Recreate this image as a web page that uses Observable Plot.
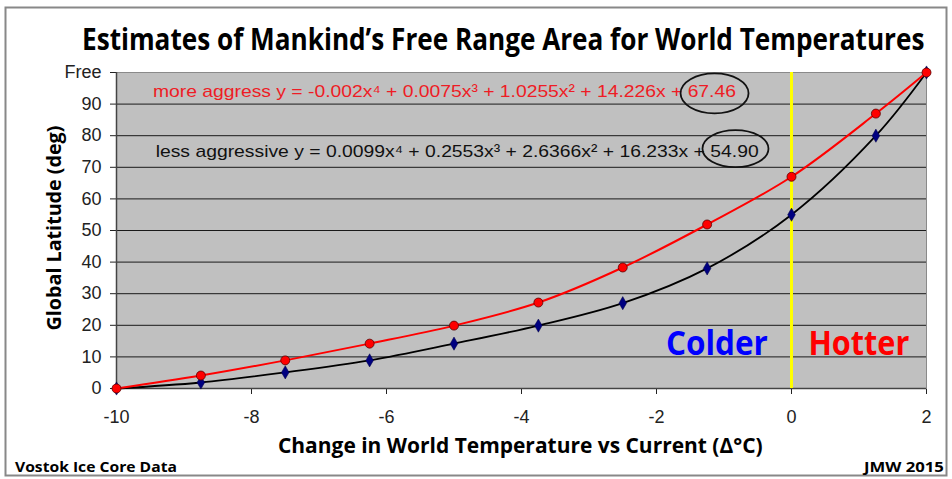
<!DOCTYPE html>
<html><head><meta charset="utf-8">
<script src="https://cdn.jsdelivr.net/npm/d3@7"></script>
<script src="https://cdn.jsdelivr.net/npm/@observablehq/plot@0.6"></script>
<style>body{margin:0;background:#fff;overflow:hidden}#chart{position:absolute;left:0;top:0}</style>
</head><body><div id="chart"></div>
<script>
// ---- data ----
const temps = [-10, -8.75, -7.5, -6.25, -5, -3.75, -2.5, -1.25, 0, 1.25, 2];
const moreAggressive = [0, 4.1, 8.9, 14.2, 19.9, 27.2, 38.3, 51.9, 67, 87, 100];
const lessAggressive = [0, 1.9, 5.1, 8.9, 14.2, 19.9, 27, 38, 55, 80, 100];
const xTicks = [-10, -8, -6, -4, -2, 0, 2];
const yTicks = [0, 10, 20, 30, 40, 50, 60, 70, 80, 90, 100];
const yTickLabels = ["0", "10", "20", "30", "40", "50", "60", "70", "80", "90", "Free"];
const gridLines = [10, 20, 30, 40, 50, 60, 70, 80, 90];
const eqMore = "more aggress y = -0.002x\u2074 + 0.0075x\u00B3 + 1.0255x\u00B2 + 14.226x + 67.46";
const eqLess = "less aggressive y = 0.0099x\u2074 + 0.2553x\u00B3 + 2.6366x\u00B2 + 16.233x + 54.90";
const titleText = "Estimates of Mankind\u2019s Free Range Area for World Temperatures";
const xLabel = "Change in World Temperature vs Current (\u0394\u00B0C)";
const yLabel = "Global Latitude (deg)";
const footLeft = "Vostok Ice Core Data";
const footRight = "JMW 2015";

const red = temps.map((t, i) => ({t, v: moreAggressive[i]}));
const blue = temps.map((t, i) => ({t, v: lessAggressive[i]}));

// ellipse symbol (drawn with bezier curves)
function ellipseSymbol(rx, ry) {
  const k = 0.5523;
  return {draw(ctx) {
    ctx.moveTo(rx, 0);
    ctx.bezierCurveTo(rx, k * ry, k * rx, ry, 0, ry);
    ctx.bezierCurveTo(-k * rx, ry, -rx, k * ry, -rx, 0);
    ctx.bezierCurveTo(-rx, -k * ry, -k * rx, -ry, 0, -ry);
    ctx.bezierCurveTo(k * rx, -ry, rx, -k * ry, rx, 0);
    ctx.closePath();
  }};
}

const plot = Plot.plot({
  width: 952, height: 479,
  marginLeft: 116, marginRight: 26, marginTop: 72, marginBottom: 91,
  style: {fontFamily: "'Liberation Sans', Arial, sans-serif", fontSize: "18px", color: "#222", background: "#fff"},
  x: {domain: [-10, 2], ticks: xTicks, tickSize: 6, tickPadding: 16, label: null, tickFormat: d => String(d)},
  y: {domain: [0, 100], ticks: yTicks, tickSize: 6, tickPadding: 9, label: null,
      tickFormat: d => yTickLabels[yTicks.indexOf(d)]},
  marks: [
    Plot.frame({fill: "#c0c0c0", stroke: "#8a8a8a"}),
    Plot.ruleY(gridLines, {stroke: "#1a1a1a", strokeWidth: 1}),
    Plot.ruleX([-10], {stroke: "#444", strokeWidth: 1.5}),
    Plot.ruleY([0], {stroke: "#444", strokeWidth: 1.5}),
    Plot.ruleX([0], {stroke: "#ffff00", strokeWidth: 3}),
    Plot.line(blue, {x: "t", y: "v", stroke: "#000", strokeWidth: 1.8, curve: "catmull-rom"}),
    Plot.line(red, {x: "t", y: "v", stroke: "#ff0000", strokeWidth: 2, curve: "catmull-rom"}),
    Plot.dot(blue, {x: "t", y: "v", symbol: "diamond", r: 4, fill: "#000080", stroke: "#000040", strokeWidth: 0.5}),
    Plot.dot(red, {x: "t", y: "v", r: 4.5, fill: "#ff0000", stroke: "#5a0000", strokeWidth: 0.8}),
    Plot.text([eqMore], {x: -9.46, y: 94, text: d => d, textAnchor: "start", fill: "#ee1c25", fontSize: 17}),
    Plot.text([eqLess], {x: -9.42, y: 75, text: d => d, textAnchor: "start", fill: "#111", fontSize: 17}),
    Plot.dot([[-1.14, 93.4]], {x: d => d[0], y: d => d[1], symbol: ellipseSymbol(34, 20), stroke: "#111", strokeWidth: 1.8, fill: "none"}),
    Plot.dot([[-0.83, 75.9]], {x: d => d[0], y: d => d[1], symbol: ellipseSymbol(33, 18.5), stroke: "#111", strokeWidth: 1.8, fill: "none"}),
    Plot.text(["Colder"], {x: -0.35, y: 14, text: d => d, textAnchor: "end", fill: "#0000ff", fontSize: 34, fontWeight: "bold", fontFamily: "'Open Sans', sans-serif"}),
    Plot.text(["Hotter"], {x: 0.25, y: 14, text: d => d, textAnchor: "start", fill: "#ff0000", fontSize: 34, fontWeight: "bold", fontFamily: "'Open Sans', sans-serif"})
  ]
});

document.getElementById("chart").appendChild(plot);
const svg = d3.select(plot);

// fit widths of texts drawn by Plot
function fit(content, w) {
  svg.selectAll("text").filter(function() { return this.textContent === content; })
    .attr("textLength", w).attr("lengthAdjust", "spacingAndGlyphs");
}
fit("Colder", 102);
fit("Hotter", 101);
fit(eqMore, 583);
fit(eqLess, 603);

const boldFont = "'Open Sans', sans-serif";
// add a bold text, scaled horizontally to a target width
function addText(str, x, y, size, width, anchor, rotate) {
  const t = svg.append("text").text(str)
    .attr("font-family", boldFont).attr("font-weight", "bold").attr("font-size", size)
    .attr("fill", "#000").attr("text-anchor", anchor);
  const natural = t.node().getComputedTextLength() || width;
  const s = width / natural;
  t.attr("transform", `translate(${x},${y})${rotate ? " rotate(-90)" : ""} scale(${s},1)`);
  return t;
}
svg.append("rect").attr("x", 5.5).attr("y", 7.5).attr("width", 941).attr("height", 468)
  .attr("fill", "none").attr("stroke", "#888").attr("stroke-width", 2);
addText(titleText, 82, 50, 30, 843, "start");
addText(xLabel, 278, 453, 21, 485, "start");
addText(yLabel, 61, 228, 19, 205, "middle", true);
addText(footLeft, 15, 472, 15, 162, "start");
addText(footRight, 864, 472, 15, 80, "start");
</script>
</body></html>
